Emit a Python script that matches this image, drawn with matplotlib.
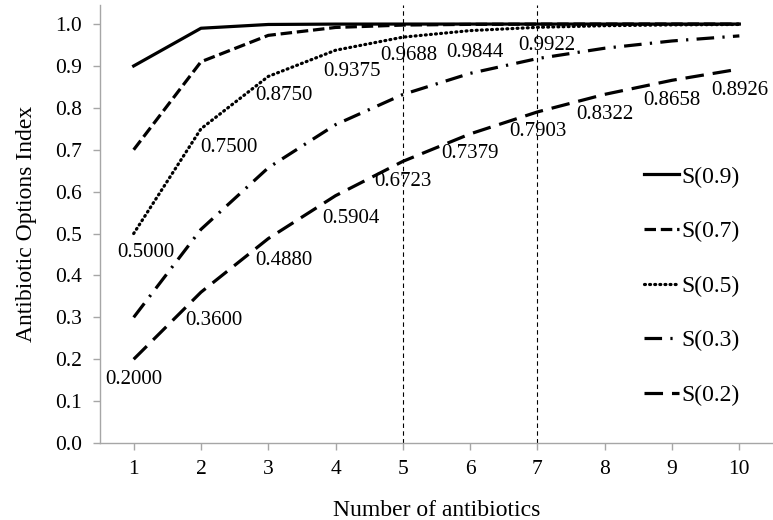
import matplotlib
import matplotlib.pyplot as plt

matplotlib.use('Agg')
plt.rcParams['font.family'] = ['Liberation Serif', 'DejaVu Serif']

# number of antibiotics on the category axis
n_antibiotics = [1, 2, 3, 4, 5, 6, 7, 8, 9, 10]

# antibiotic options index for each susceptibility level
s09 = [0.9, 0.99, 0.999, 0.9999, 0.99999, 1.0, 1.0, 1.0, 1.0, 1.0]
s07 = [0.7, 0.91, 0.973, 0.9919, 0.99757, 0.99927, 0.99978, 0.99993, 0.99998, 0.99999]
s05 = [0.5, 0.75, 0.875, 0.9375, 0.96875, 0.984375, 0.9921875, 0.99609, 0.99805, 0.99902]
s03 = [0.3, 0.51, 0.657, 0.7599, 0.83193, 0.88235, 0.91765, 0.94235, 0.95965, 0.97175]
s02 = [0.2, 0.36, 0.488, 0.5904, 0.67232, 0.73786, 0.79028, 0.83223, 0.86578, 0.89263]

series_names = ['S(0.9)', 'S(0.7)', 'S(0.5)', 'S(0.3)', 'S(0.2)']

# data labels shown in the chart
s05_labels = ['0.5000', '0.7500', '0.8750', '0.9375', '0.9688', '0.9844', '0.9922']
s02_labels = ['0.2000', '0.3600', '0.4880', '0.5904', '0.6723', '0.7379',
              '0.7903', '0.8322', '0.8658', '0.8926']

# reference lines at these antibiotic counts
ref_lines = [5, 7]

fig = plt.figure(figsize=(7.73, 5.2), dpi=100)
ax = fig.add_axes([0.1294, 0.148, 0.8706, 0.842])

lw = 2.3
styles = [
    dict(linestyle='-'),
    dict(linestyle=(0, (3.6, 1.5))),
    dict(linestyle=(0, (0.3, 1.3)), dash_capstyle='round'),
    dict(linestyle=(0, (5.5, 2.6, 0.7, 2.6))),
    dict(linestyle=(0, (5.8, 2.8))),
]
for ys, name, st in zip([s09, s07, s05, s03, s02], series_names, styles):
    ax.plot(n_antibiotics, ys, color='black', lw=lw, label=name, **st)

for xv in ref_lines:
    ax.axvline(xv, color='black', lw=0.8, linestyle=(0, (4, 3)))

# label offsets in pixels (dx, dy)
s05_off = [(12, -19), (28, -19), (16, -19), (16, -21), (6, -18), (5, -22), (9, -18)]
s02_off = [(0, -20), (13, -28), (16, -22), (15, -23), (0, -20), (0, -20),
           (0, -20), (0, -20), (0, -20), (0, -21)]

for x, y, t, off in zip(n_antibiotics, s05, s05_labels, s05_off):
    ax.annotate(t, (x, y), xytext=off, textcoords='offset pixels',
                ha='center', va='center', fontsize=15)
for x, y, t, off in zip(n_antibiotics, s02, s02_labels, s02_off):
    ax.annotate(t, (x, y), xytext=off, textcoords='offset pixels',
                ha='center', va='center', fontsize=15)

ax.set_xlim(0.5, 10.5)
ax.set_ylim(0, 1.045)
ax.set_xticks(n_antibiotics)
ax.set_yticks([i / 10 for i in range(11)])
ax.set_yticklabels(['%.1f' % (i / 10) for i in range(11)])

for side in ['top', 'right']:
    ax.spines[side].set_visible(False)
for side in ['left', 'bottom']:
    ax.spines[side].set_color('#a6a6a6')
    ax.spines[side].set_linewidth(1.0)
ax.tick_params(axis='both', colors='#a6a6a6', labelcolor='black',
               labelsize=15.5, length=5, width=1.0)
ax.tick_params(axis='x', pad=7)
ax.tick_params(axis='y', pad=8)

ax.set_xlabel('Number of antibiotics', fontsize=17, labelpad=15)
ax.set_ylabel('Antibiotic Options Index', fontsize=17, labelpad=13)

fig.legend(loc='center left', bbox_to_anchor=(0.805, 0.45), frameon=False,
           fontsize=17, handlelength=1.5, handletextpad=0.1, labelspacing=1.4)

fig.savefig('out.png', dpi=100)
